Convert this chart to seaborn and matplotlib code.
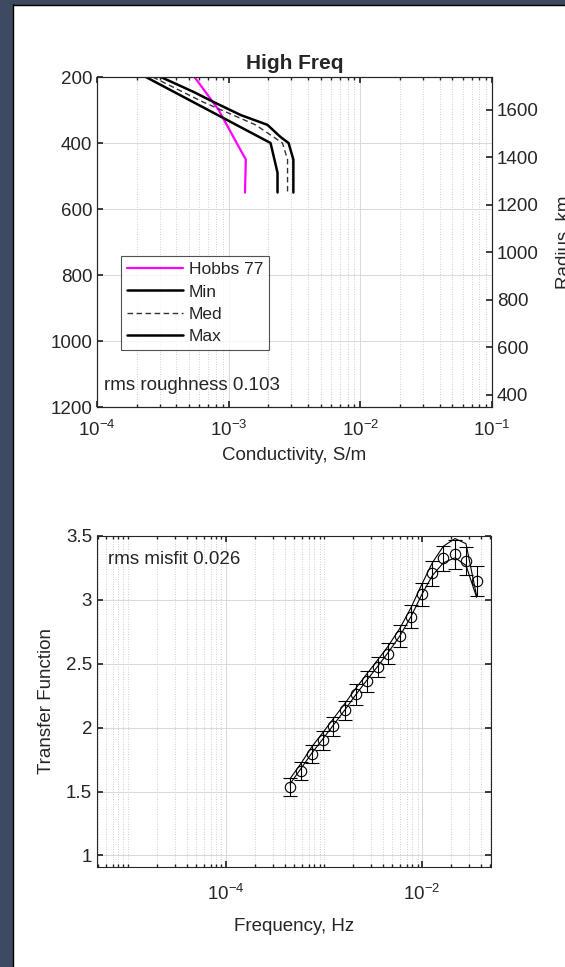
import numpy as np
import pandas as pd
import matplotlib
matplotlib.use("Agg")
import matplotlib.pyplot as plt
import matplotlib.ticker as mticker
from matplotlib.patches import Rectangle
from matplotlib.lines import Line2D
import seaborn as sns

# ---------------- data ----------------
hobbs_depth = [200, 300, 400, 450, 550]
hobbs_cond = [5.5e-4, 8.4e-4, 1.15e-3, 1.35e-3, 1.33e-3]

min_depth = [200, 400, 490, 550]
min_cond = [2.35e-4, 2.08e-3, 2.35e-3, 2.35e-3]

med_depth = [200, 276, 345, 400, 450, 550]
med_cond = [2.65e-4, 6.4e-4, 1.6e-3, 2.56e-3, 2.8e-3, 2.8e-3]

max_depth = [200, 245, 276, 315, 345, 382, 400, 450, 550]
max_cond = [3.05e-4, 5.4e-4, 7.7e-4, 1.23e-3, 1.97e-3, 2.48e-3, 2.85e-3, 3.1e-3, 3.1e-3]

freq = [4.50e-4, 5.82e-4, 7.50e-4, 9.70e-4, 1.245e-3, 1.637e-3, 2.12e-3, 2.73e-3,
        3.53e-3, 4.53e-3, 5.97e-3, 7.73e-3, 9.93e-3, 1.274e-2, 1.652e-2, 2.173e-2,
        2.81e-2, 3.61e-2]
tf_obs = [1.539, 1.659, 1.796, 1.90, 2.01, 2.135, 2.26, 2.363, 2.475, 2.58, 2.716,
          2.867, 3.045, 3.207, 3.325, 3.356, 3.306, 3.147]
tf_err = [0.07, 0.07, 0.07, 0.075, 0.075, 0.075, 0.08, 0.08, 0.08, 0.085, 0.085,
          0.09, 0.09, 0.095, 0.10, 0.115, 0.11, 0.12]
tf_model_hi = [1.60, 1.72, 1.85, 1.96, 2.07, 2.19, 2.31, 2.42, 2.53, 2.64, 2.78,
               2.94, 3.12, 3.29, 3.42, 3.48, 3.44, 3.03]
tf_model_lo = [1.56, 1.68, 1.80, 1.91, 2.02, 2.14, 2.26, 2.37, 2.48, 2.59, 2.72,
               2.87, 3.04, 3.19, 3.29, 3.33, 3.27, 3.02]

y_ticks_top = [200, 400, 600, 800, 1000, 1200]
radius_ticks = [400, 600, 800, 1000, 1200, 1400, 1600]
tf_ticks = [1, 1.5, 2, 2.5, 3, 3.5]
tf_ticklabels = ["1", "1.5", "2", "2.5", "3", "3.5"]

# ---------------- style ----------------
sns.set_theme(style="ticks")
plt.rcParams["font.family"] = ["Liberation Sans", "DejaVu Sans"]
plt.rcParams["mathtext.default"] = "regular"
plt.rcParams["axes.unicode_minus"] = False
TXT = "#262626"
plt.rcParams.update({
    "text.color": TXT, "axes.labelcolor": TXT, "xtick.color": TXT, "ytick.color": TXT,
    "axes.edgecolor": TXT, "xtick.direction": "in", "ytick.direction": "in",
    "axes.linewidth": 0.8,
})
FS = 13.5

fig = plt.figure(figsize=(5.65, 9.67), dpi=100)
fig.patch.set_facecolor("white")
W, H = 565, 967

def px_axes(l, t, r, b):
    return fig.add_axes([l / W, (H - b) / H, (r - l) / W, (b - t) / H])

# frame border (left and top)
border = "#3d4a61"
fig.add_artist(Rectangle((0, 0), 12 / W, 1, transform=fig.transFigure, color=border, zorder=0))
fig.add_artist(Rectangle((0, 1 - 4 / H), 1, 4 / H, transform=fig.transFigure, color=border, zorder=0))
fig.add_artist(Line2D([12.5 / W, 12.5 / W], [0, 1 - 4 / H], transform=fig.transFigure, color="black", lw=1))
fig.add_artist(Line2D([12.5 / W, 1], [1 - 4.5 / H, 1 - 4.5 / H], transform=fig.transFigure, color="black", lw=1))

def style_grid(ax):
    ax.grid(which="major", axis="both", color="#d9d9d9", lw=0.7, ls="-")
    ax.grid(which="minor", axis="x", color="#bfbfbf", lw=0.6, ls=(0, (1, 2)))
    ax.set_axisbelow(True)

# ---------------- top panel ----------------
ax1 = px_axes(97, 77, 492, 407)
prof = pd.concat([
    pd.DataFrame({"cond": hobbs_cond, "depth": hobbs_depth, "model": "Hobbs 77"}),
    pd.DataFrame({"cond": min_cond, "depth": min_depth, "model": "Min"}),
    pd.DataFrame({"cond": med_cond, "depth": med_depth, "model": "Med"}),
    pd.DataFrame({"cond": max_cond, "depth": max_depth, "model": "Max"}),
])
styles = {"Hobbs 77": ("#ff00ff", "-", 1.6), "Min": ("black", "-", 1.8),
          "Med": ("#333333", (0, (4, 2.5)), 1.0), "Max": ("black", "-", 1.8)}
for name, (c, ls, lw) in styles.items():
    sub = prof[prof["model"] == name]
    sns.lineplot(data=sub, x="cond", y="depth", sort=False, estimator=None,
                 orient="y", color=c, lw=lw, ls=ls, ax=ax1, label=name)
ax1.set_xscale("log")
ax1.set_xlim(1e-4, 1e-1)
ax1.set_ylim(1200, 200)
ax1.set_yticks(y_ticks_top)
ax1.xaxis.set_major_locator(mticker.LogLocator(base=10, numticks=10))
ax1.xaxis.set_minor_locator(mticker.LogLocator(base=10, subs=np.arange(2, 10), numticks=20))
ax1.xaxis.set_minor_formatter(mticker.NullFormatter())
ax1.xaxis.set_major_formatter(mticker.LogFormatterMathtext())
ax1.tick_params(axis="both", labelsize=FS, length=4, top=True)
ax1.tick_params(axis="x", which="major", pad=9)
ax1.tick_params(axis="x", which="minor", length=2, top=True)
ax1.tick_params(axis="y", right=False)
style_grid(ax1)
ax1.set_xlabel("Conductivity, S/m", fontsize=FS, labelpad=5)
ax1.set_ylabel("")
ax1.set_title("High Freq", fontsize=15, fontweight="bold", pad=6)
leg = ax1.legend(loc="upper left", bbox_to_anchor=(0.061, 0.458), borderaxespad=0,
                 fontsize=12.5, frameon=True, fancybox=False, edgecolor="#262626",
                 handlelength=3.2, handletextpad=0.35, labelspacing=0.42,
                 borderpad=0.35)
leg.get_frame().set_linewidth(0.8)
ax1.text(0.018, 0.04, "rms roughness 0.103", transform=ax1.transAxes, fontsize=FS,
         ha="left", va="bottom")

ax1r = ax1.twinx()
ax1r.set_ylim(349, 1739)
ax1r.set_yticks(radius_ticks)
ax1r.tick_params(axis="y", labelsize=FS, length=4, direction="in")
ax1r.set_ylabel("Radius, km", fontsize=FS, labelpad=12)
for s in ax1r.spines.values():
    s.set_edgecolor(TXT)
    s.set_linewidth(0.8)

# ---------------- bottom panel ----------------
ax2 = px_axes(97, 536, 491, 867)
sns.lineplot(x=freq, y=tf_model_hi, sort=False, estimator=None, color="black", lw=0.8, ax=ax2)
sns.lineplot(x=freq, y=tf_model_lo, sort=False, estimator=None, color="black", lw=0.8, ax=ax2)
ax2.errorbar(freq, tf_obs, yerr=tf_err, fmt="o", mfc="none", mec="black", ms=7.5,
             mew=0.8, ecolor="black", elinewidth=0.8, capsize=5, capthick=0.8)
ax2.set_xscale("log")
ax2.set_xlim(4.83e-6, 5.06e-2)
ax2.set_ylim(0.91, 3.5)
ax2.xaxis.set_major_locator(mticker.FixedLocator([1e-4, 1e-2]))
ax2.xaxis.set_minor_locator(mticker.LogLocator(base=10, subs=np.arange(1, 10), numticks=30))
ax2.xaxis.set_minor_formatter(mticker.NullFormatter())
ax2.xaxis.set_major_formatter(mticker.LogFormatterMathtext())
ax2.set_yticks(tf_ticks)
ax2.set_yticklabels(tf_ticklabels)
ax2.tick_params(axis="both", labelsize=FS, length=4, top=True, right=True)
ax2.tick_params(axis="x", which="major", pad=12)
ax2.tick_params(axis="x", which="minor", length=2, top=True)
style_grid(ax2)
ax2.set_xlabel("Frequency, Hz", fontsize=FS, labelpad=10)
ax2.set_ylabel("Transfer Function", fontsize=FS, labelpad=8)
ax2.text(0.028, 0.955, "rms misfit 0.026", transform=ax2.transAxes, fontsize=FS,
         ha="left", va="top")

fig.savefig("out.png", dpi=100)
